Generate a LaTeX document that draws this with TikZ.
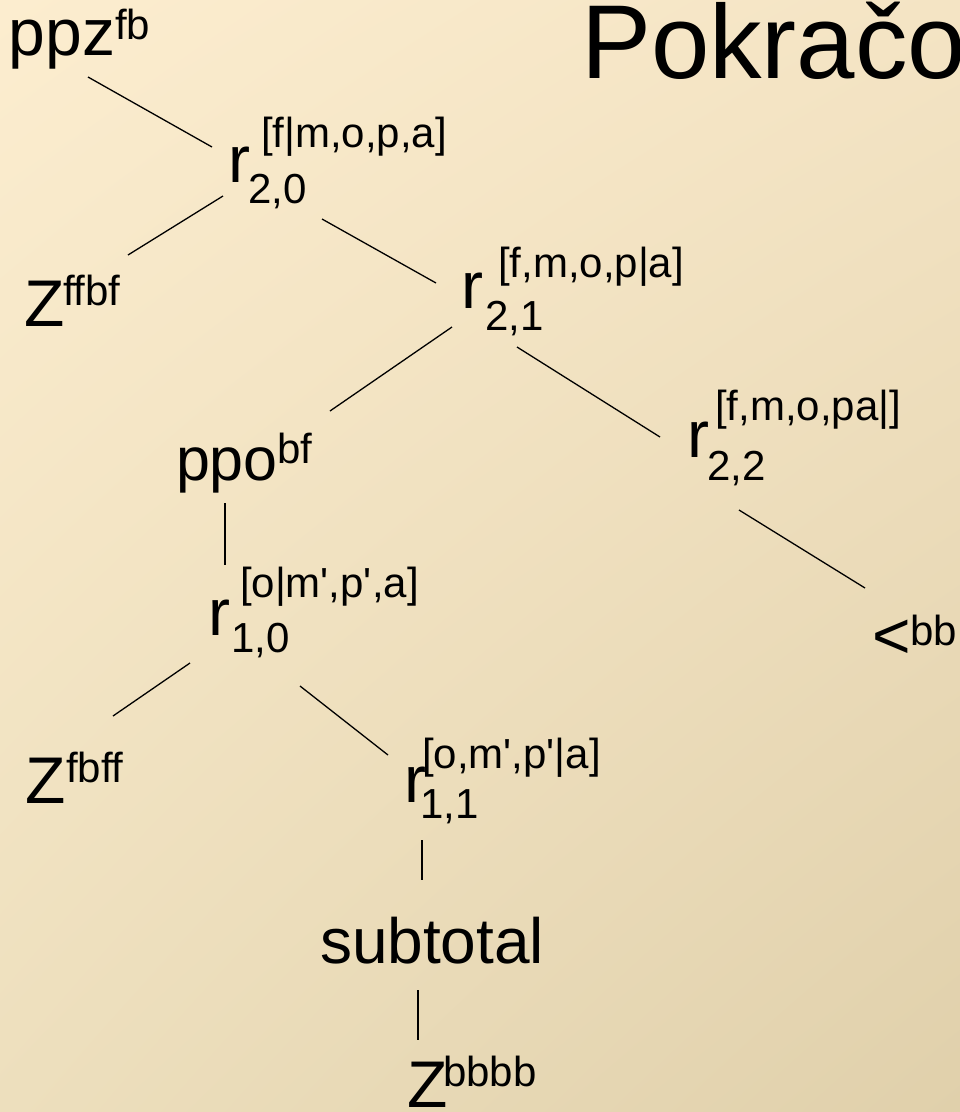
\documentclass[tikz,border=0pt]{standalone}
\usepackage{fontspec}
\usetikzlibrary{shadings}
\setmainfont{Liberation Sans}[Ligatures=TeXOff]
\newcommand\bigf{\fontsize{66}{70}\selectfont}
\newcommand\midf{\fontsize{61}{65}\selectfont}
\newcommand\smf{\fontsize{42}{46}\selectfont}
\newcommand\ttlf{\fontsize{105}{110}\selectfont}
\definecolor{bgtl}{RGB}{252,237,207}
\definecolor{bgtr}{RGB}{244,228,196}
\definecolor{bgbl}{RGB}{237,223,189}
\definecolor{bgbr}{RGB}{224,208,171}
\tikzset{
  lbl/.style={anchor=base west, inner sep=0pt, outer sep=0pt, text=black},
  mainlbl/.style={lbl, font=\bigf},
  smalllbl/.style={lbl, font=\smf},
  edge/.style={draw=black, line width=1.3pt}
}
\begin{document}
\begin{tikzpicture}[x=1pt,y=-1pt]
\useasboundingbox (0,0) rectangle (960,1112);
\shade[upper left=bgtl, upper right=bgtr, lower left=bgbl, lower right=bgbr] (0,0) rectangle (960,1112);

% title
\node[lbl, font=\ttlf] (title) at (581,78) {Pokračo};

% ppz^fb
\node[mainlbl] (ppz) at (9,55) {ppz};
\node[smalllbl] (ppzs) at (115,39) {fb};

% r_{2,0}
\node[mainlbl] (r20) at (228,182) {r};
\node[smalllbl] (r20b) at (248,203) {2,0};
\node[smalllbl] (r20t) at (261,147) {[f|m,o,p,a]};

% Z^ffbf
\node[mainlbl] (z1) at (24,326) {Z};
\node[smalllbl] (z1s) at (63,305) {ffbf};

% r_{2,1}
\node[mainlbl] (r21) at (461,308) {r};
\node[smalllbl] (r21b) at (485,330) {2,1};
\node[smalllbl] (r21t) at (498,277) {[f,m,o,p|a]};

% ppo^bf
\node[lbl, font=\midf] (ppo) at (176,480) {ppo};
\node[smalllbl] (ppos) at (277,463) {bf};

% r_{2,2}
\node[mainlbl] (r22) at (687,457) {r};
\node[smalllbl] (r22b) at (707,480) {2,2};
\node[smalllbl] (r22t) at (715,420) {[f,m,o,pa|]};

% <^bb
\node[mainlbl] (lt) at (872,658) {<};
\node[smalllbl] (lts) at (910,645) {bb};

% r_{1,0}
\node[mainlbl] (r10) at (208,635) {r};
\node[smalllbl] (r10b) at (231,652) {1,0};
\node[smalllbl] (r10t) at (240,597) {[o|m',p',a]};

% Z^fbff
\node[mainlbl] (z2) at (25,803) {Z};
\node[smalllbl] (z2s) at (66,782) {fbff};

% r_{1,1}
\node[mainlbl] (r11) at (404,802) {r};
\node[smalllbl] (r11b) at (420,818) {1,1};
\node[smalllbl] (r11t) at (422,768) {[o,m',p'|a]};

% subtotal
\node[lbl, font=\fontsize{64}{68}\selectfont] (sub) at (320,963) {subtotal};

% Z^bbbb
\node[mainlbl] (z3) at (407,1107) {Z};
\node[smalllbl] (z3s) at (443,1086) {bbbb};

% connector end points
\coordinate (ppz-o) at (88,77);   \coordinate (r20-i) at (212,147);
\coordinate (r20-l) at (223,196); \coordinate (z1-i) at (128,255);
\coordinate (r20-r) at (322,219); \coordinate (r21-i) at (436,283);
\coordinate (r21-l) at (452,327); \coordinate (ppo-i) at (330,411);
\coordinate (r21-r) at (517,347); \coordinate (r22-i) at (660,437);
\coordinate (r22-o) at (739,510); \coordinate (lt-i) at (865,588);
\coordinate (ppo-o) at (225,503); \coordinate (r10-i) at (225,565);
\coordinate (r10-l) at (190,663); \coordinate (z2-i) at (113,716);
\coordinate (r10-r) at (300,686); \coordinate (r11-i) at (388,755);
\coordinate (r11-o) at (422,840); \coordinate (sub-i) at (422,880);
\coordinate (sub-o) at (418,990); \coordinate (z3-i) at (418,1040);

\draw[edge] (ppz-o) -- (r20-i);
\draw[edge] (r20-l) -- (z1-i);
\draw[edge] (r20-r) -- (r21-i);
\draw[edge] (r21-l) -- (ppo-i);
\draw[edge] (r21-r) -- (r22-i);
\draw[edge] (r22-o) -- (lt-i);
\draw[edge] (ppo-o) -- (r10-i);
\draw[edge] (r10-l) -- (z2-i);
\draw[edge] (r10-r) -- (r11-i);
\draw[edge] (r11-o) -- (sub-i);
\draw[edge] (sub-o) -- (z3-i);
\end{tikzpicture}
\end{document}
